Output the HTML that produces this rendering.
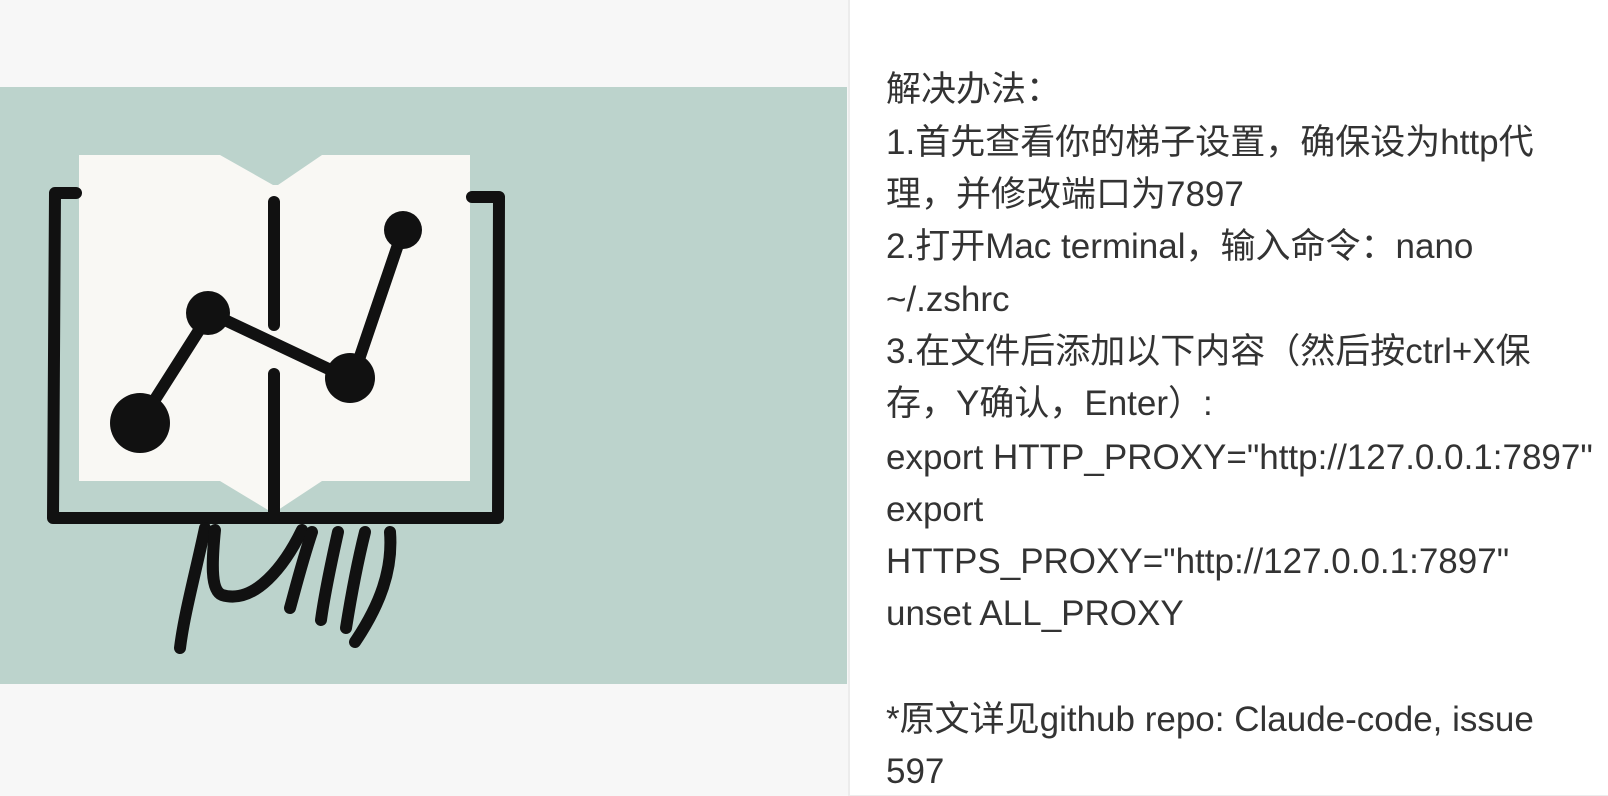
<!DOCTYPE html>
<html><head><meta charset="utf-8"><style>
html,body{margin:0;padding:0;width:1608px;height:796px;overflow:hidden;background:#f7f7f7;}
#left{position:absolute;left:0;top:0;width:848px;height:796px;background:#f7f7f7;}
#img{position:absolute;left:0;top:87px;width:847px;height:597px;background:#bcd3cc;overflow:hidden;}
#right{position:absolute;left:848px;top:0;width:760px;height:795px;background:#fff;border-left:2px solid #ececec;border-bottom:1px solid #ececec;}
.l{position:absolute;left:886px;white-space:nowrap;font-family:"Liberation Sans","Noto Sans CJK SC",sans-serif;font-size:35px;line-height:40px;color:#333;}
</style></head><body>
<div id="left"></div>
<div id="img">
<svg width="847" height="597" viewBox="0 87 847 597" xmlns="http://www.w3.org/2000/svg">
<polygon points="79,155 220,155 273,185 278,185 322,155 470,155 470,481 322,481 278,510 268,510 220,481 79,481" fill="#f9f8f4"/>
<g stroke="#111" stroke-width="12" fill="none" stroke-linecap="round" stroke-linejoin="round">
<path d="M76,193 L55,193 L53,518 L498,518 L499,197 L472,197"/>
<path d="M274,202 L274,325"/>
<path d="M274,374 L274,518"/>
<path d="M140,423 L210,313 L352,380 L403,230"/>
<path d="M205,528 C195,575 184,615 180,648"/>
<path d="M215,530 C212,560 210,590 222,595 C255,605 285,565 302,530"/>
<path d="M312,532 C302,562 295,590 290,608"/>
<path d="M338,532 C330,568 324,598 321,620"/>
<path d="M365,532 C356,568 350,603 346,628"/>
<path d="M390,532 C393,570 380,605 355,642"/>
</g>
<g fill="#111">
<circle cx="140" cy="423" r="30"/>
<circle cx="208" cy="313" r="22"/>
<circle cx="350" cy="378" r="25"/>
<circle cx="403" cy="230" r="19"/>
</g>
</svg>
</div>
<div id="right"></div>
<div class="l" style="top:70px">解决办法：</div>
<div class="l" style="top:123px">1.首先查看你的梯子设置，确保设为http代</div>
<div class="l" style="top:175px">理，并修改端口为7897</div>
<div class="l" style="top:227px">2.打开Mac terminal，输入命令：nano</div>
<div class="l" style="top:280px">~/.zshrc</div>
<div class="l" style="top:332px">3.在文件后添加以下内容（然后按ctrl+X保</div>
<div class="l" style="top:384px">存，Y确认，Enter）:</div>
<div class="l" style="top:438px">export HTTP_PROXY="http://127.0.0.1:7897"</div>
<div class="l" style="top:490px">export</div>
<div class="l" style="top:542px">HTTPS_PROXY="http://127.0.0.1:7897"</div>
<div class="l" style="top:594px">unset ALL_PROXY</div>
<div class="l" style="top:700px">*原文详见github repo: Claude-code, issue</div>
<div class="l" style="top:752px">597</div>
</body></html>
